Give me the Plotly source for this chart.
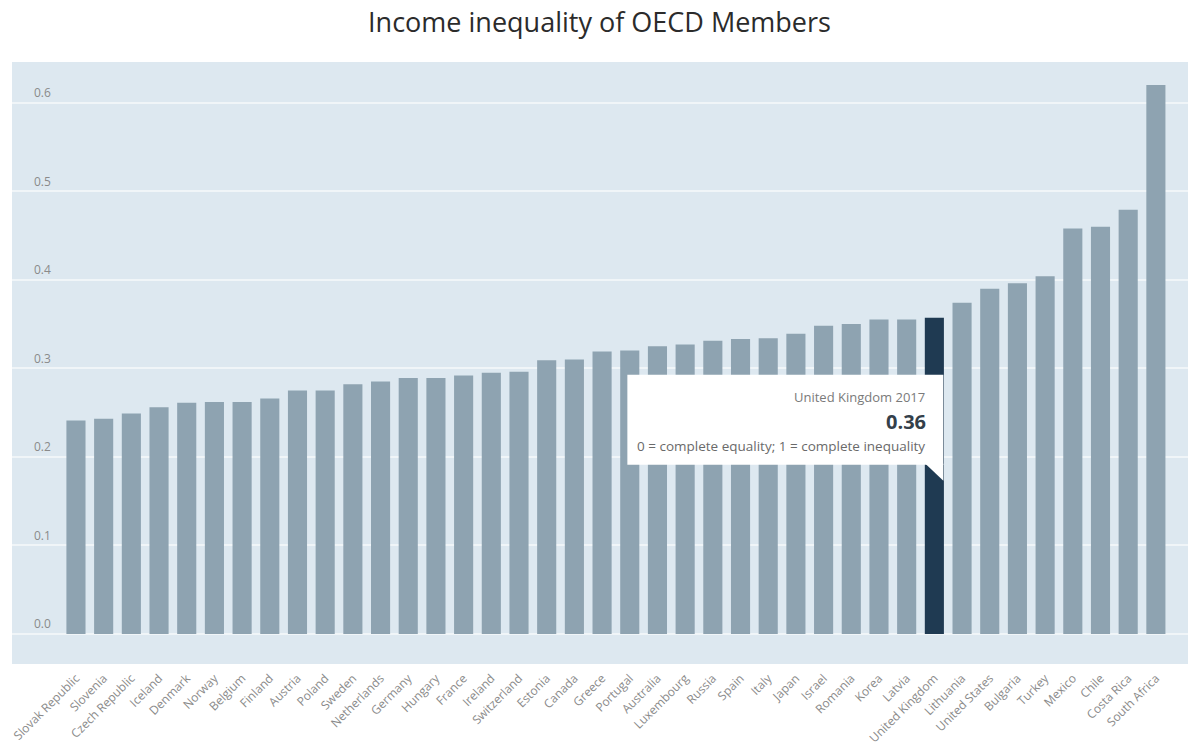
import plotly.graph_objects as go

# ---- data ----
countries = ["Slovak Republic", "Slovenia", "Czech Republic", "Iceland", "Denmark", "Norway",
             "Belgium", "Finland", "Austria", "Poland", "Sweden", "Netherlands", "Germany",
             "Hungary", "France", "Ireland", "Switzerland", "Estonia", "Canada", "Greece",
             "Portugal", "Australia", "Luxembourg", "Russia", "Spain", "Italy", "Japan",
             "Israel", "Romania", "Korea", "Latvia", "United Kingdom", "Lithuania",
             "United States", "Bulgaria", "Turkey", "Mexico", "Chile", "Costa Rica",
             "South Africa"]
gini = [0.241, 0.243, 0.249, 0.256, 0.261, 0.262, 0.262, 0.266, 0.275, 0.275, 0.282, 0.285,
        0.289, 0.289, 0.292, 0.295, 0.296, 0.309, 0.310, 0.319, 0.320, 0.325, 0.327, 0.331,
        0.333, 0.334, 0.339, 0.348, 0.350, 0.355, 0.355, 0.357, 0.374, 0.390, 0.396, 0.404,
        0.458, 0.460, 0.479, 0.620]
y_ticks = [0.0, 0.1, 0.2, 0.3, 0.4, 0.5, 0.6]
y_tick_labels = ["0.0", "0.1", "0.2", "0.3", "0.4", "0.5", "0.6"]

title_text = "Income inequality of OECD Members"
highlight = "United Kingdom"
tip_title = "United Kingdom 2017"
tip_value = "0.36"
tip_note = "0 = complete equality; 1 = complete inequality"

# ---- styling ----
BAR = "#8ea3b1"
BAR_HL = "#1f3a52"
BG = "#dde8f0"
GRID = "#f0f5f8"
FONT = "Open Sans"
TICK_COLOR = "#8a8a8a"

colors = [BAR_HL if c == highlight else BAR for c in countries]
hl_idx = countries.index(highlight)
hl_val = gini[hl_idx]

fig = go.Figure()
fig.add_trace(go.Bar(x=countries, y=gini, marker=dict(color=colors, line=dict(width=0)),
                     hoverinfo="skip"))

n = len(countries)
fig.update_layout(
    width=1199, height=753,
    paper_bgcolor="white", plot_bgcolor=BG,
    margin=dict(l=12, r=11, t=62, b=89, autoexpand=False),
    bargap=0.31,
    showlegend=False,
    title=dict(text=title_text, x=0.5, xanchor="center", y=0.970, yanchor="middle",
               font=dict(family=FONT, size=27, color="#2b2b2b")),
    xaxis=dict(type="category", range=[-2.31, n - 1 + 1.16], showgrid=False,
               tickangle=-45, tickfont=dict(family=FONT, size=12, color=TICK_COLOR),
               ticklabelstandoff=4, automargin=False,
               ticks="", showline=False, zeroline=False, fixedrange=True),
    yaxis=dict(range=[-0.034, 0.646], tickvals=y_ticks, showticklabels=False,
               showgrid=True, gridcolor=GRID, gridwidth=2, zeroline=False,
               automargin=False, ticks="", fixedrange=True),
)

# y tick labels drawn inside the plot area, just above each gridline
for v, lab in zip(y_ticks, y_tick_labels):
    fig.add_annotation(x=0, y=v, xref="paper", yref="y", text=lab, showarrow=False,
                       xanchor="left", yanchor="middle", xshift=20, yshift=10,
                       font=dict(family=FONT, size=12, color=TICK_COLOR))

# tooltip box anchored to the highlighted bar
fig.add_shape(type="rect", xref="x", yref="y", xsizemode="pixel", ysizemode="pixel",
              xanchor=hl_idx, yanchor=hl_val, x0=-307, x1=9, y0=-147, y1=-57,
              fillcolor="white", line=dict(width=0), layer="above")
fig.add_shape(type="path", xref="x", yref="y", xsizemode="pixel", ysizemode="pixel",
              xanchor=hl_idx, yanchor=hl_val,
              path="M -9,-146 L 9,-146 L 9,-163 Z",
              fillcolor="white", line=dict(width=0), layer="above")

fig.add_annotation(x=countries[hl_idx], y=hl_val, xref="x", yref="y", text=tip_title,
                   showarrow=False, xanchor="right", yanchor="middle", xshift=-7, yshift=-79,
                   font=dict(family=FONT, size=13, color="#7a7a7a"))
fig.add_annotation(x=countries[hl_idx], y=hl_val, xref="x", yref="y", text="<b>" + tip_value + "</b>",
                   showarrow=False, xanchor="right", yanchor="middle", xshift=-6, yshift=-104,
                   font=dict(family=FONT, size=20, color="#34404a"))
fig.add_annotation(x=countries[hl_idx], y=hl_val, xref="x", yref="y", text=tip_note,
                   showarrow=False, xanchor="right", yanchor="middle", xshift=-7, yshift=-128,
                   font=dict(family=FONT, size=13.5, color="#6a6a6a"))

fig.write_html("out.html")
